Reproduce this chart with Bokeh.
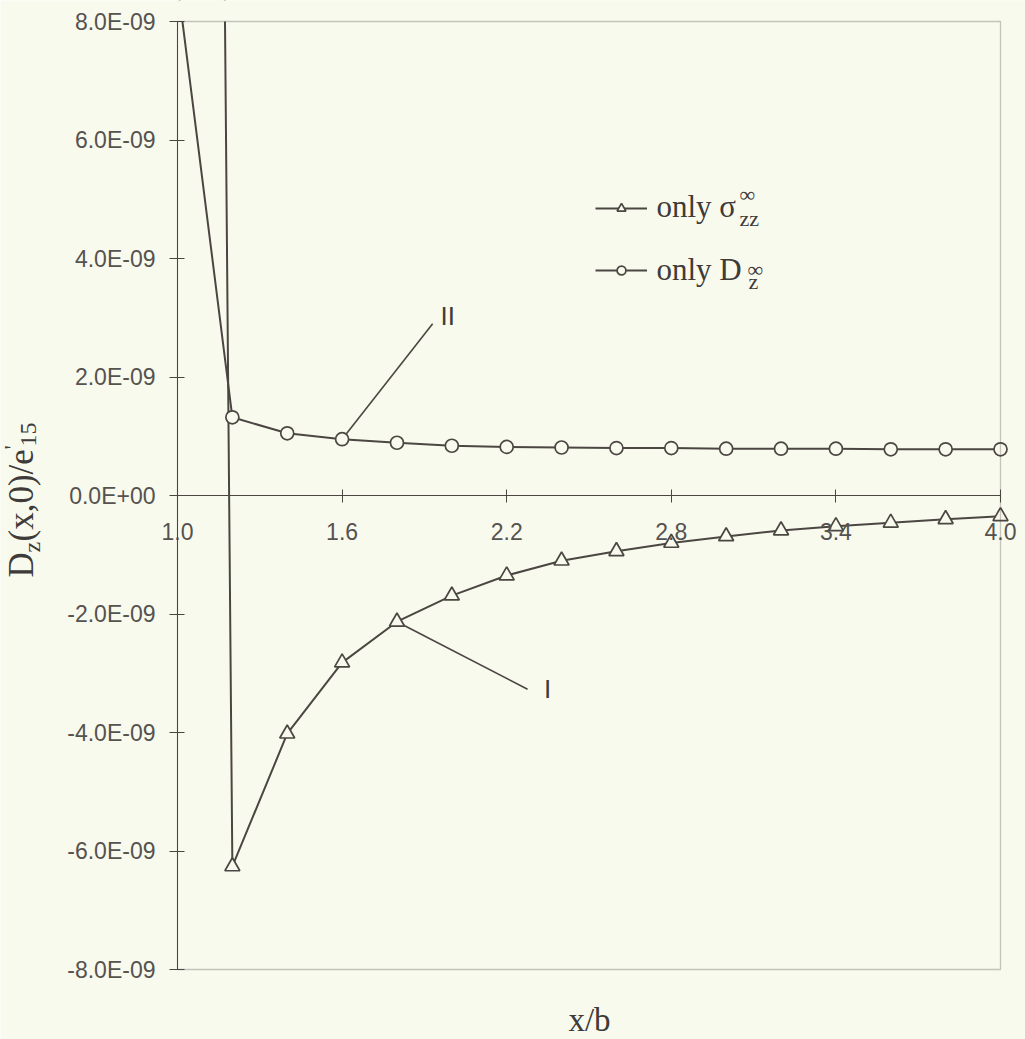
import math
from bokeh.plotting import figure
from bokeh.models import FixedTicker, Range1d, Label, Legend, LegendItem, BoxAnnotation
from bokeh.embed import file_html
from bokeh.resources import INLINE

# ---------------- data ----------------
x_b = [1.0, 1.2, 1.4, 1.6, 1.8, 2.0, 2.2, 2.4, 2.6, 2.8, 3.0, 3.2, 3.4, 3.6, 3.8, 4.0]
# curve I : only sigma_zz
only_sigma_zz = [1.0e-07, -6.26e-09, -4.02e-09, -2.82e-09, -2.13e-09, -1.69e-09, -1.35e-09,
                 -1.10e-09, -0.94e-09, -0.80e-09, -0.69e-09, -0.59e-09, -0.52e-09,
                 -0.46e-09, -0.40e-09, -0.35e-09]
# curve II : only D_z
only_D_z = [8.66e-09, 1.32e-09, 1.05e-09, 0.95e-09, 0.89e-09, 0.84e-09, 0.82e-09, 0.81e-09,
            0.80e-09, 0.80e-09, 0.79e-09, 0.79e-09, 0.79e-09, 0.78e-09, 0.78e-09, 0.78e-09]

x_ticks = [1.0, 1.6, 2.2, 2.8, 3.4, 4.0]
x_tick_labels = ["1.0", "1.6", "2.2", "2.8", "3.4", "4.0"]
y_ticks = [-8e-09, -6e-09, -4e-09, -2e-09, 0.0, 2e-09, 4e-09, 6e-09, 8e-09]
y_tick_labels = ["-8.0E-09", "-6.0E-09", "-4.0E-09", "-2.0E-09", "0.0E+00",
                 "2.0E-09", "4.0E-09", "6.0E-09", "8.0E-09"]

# leader-line ends for the curve labels (data coordinates)
leader_II_end = (1.93, 2.90e-09)
leader_I_end = (2.276, -3.27e-09)

# ---------------- layout / style ----------------
W, H = 1025, 1039
BOX_L, BOX_R, BOX_T, BOX_B = 177, 1000, 21, 969      # pixel box of the chart area
xs = (BOX_R - BOX_L) / (x_ticks[-1] - x_ticks[0])     # px per x unit
ys = (BOX_B - BOX_T) / (y_ticks[-1] - y_ticks[0])     # px per y unit
x_start = x_ticks[0] - BOX_L / xs
x_end = x_ticks[-1] + (W - BOX_R) / xs
y_end = y_ticks[-1] + BOX_T / ys
y_start = y_ticks[0] - (H - BOX_B) / ys

BG = "#F9FAEE"
INK = "#4B4642"
TXT = "#3F3B38"
TICKTXT = "#55524F"
SANS = "Liberation Sans"
SERIF = "Liberation Serif"

p = figure(width=W, height=H,
           x_range=Range1d(x_start, x_end), y_range=Range1d(y_start, y_end),
           output_backend="svg", toolbar_location=None,
           min_border_left=0, min_border_right=0, min_border_top=0, min_border_bottom=0,
           background_fill_color=BG, border_fill_color=BG, outline_line_color=None)

p.xgrid.visible = False
p.ygrid.visible = False

# x axis through y = 0
xa = p.xaxis[0]
xa.fixed_location = 0
xa.bounds = (x_ticks[0], x_ticks[-1])
xa.ticker = FixedTicker(ticks=x_ticks)
xa.major_label_overrides = dict(zip(x_ticks, x_tick_labels))
xa.major_tick_in = 6
xa.major_tick_out = 7
xa.minor_tick_line_color = None
xa.major_label_standoff = 20
xa.axis_line_color = INK
xa.major_tick_line_color = INK
xa.major_label_text_font = SANS
xa.major_label_text_font_size = "23px"
xa.major_label_text_color = TICKTXT

# y axis at x = 1.0
ya = p.yaxis[0]
ya.fixed_location = x_ticks[0]
ya.bounds = (y_ticks[0], y_ticks[-1])
ya.ticker = FixedTicker(ticks=y_ticks)
ya.major_label_overrides = dict(zip(y_ticks, y_tick_labels))
ya.major_tick_in = 7
ya.major_tick_out = 8
ya.minor_tick_line_color = None
ya.major_label_standoff = 14
ya.axis_line_color = INK
ya.major_tick_line_color = INK
ya.major_label_text_font = SANS
ya.major_label_text_font_size = "23px"
ya.major_label_text_color = TICKTXT

# leader lines (drawn before the markers so that markers sit on top)
p.segment(x0=[x_b[3]], y0=[only_D_z[3]], x1=[leader_II_end[0]], y1=[leader_II_end[1]],
          line_color=INK, line_width=1.6)
p.segment(x0=[x_b[4]], y0=[only_sigma_zz[4]], x1=[leader_I_end[0]], y1=[leader_I_end[1]],
          line_color=INK, line_width=1.6)

# series
l1 = p.line(x_b, only_sigma_zz, line_color=INK, line_width=2.0)
m1 = p.scatter(x_b, only_sigma_zz, marker="triangle", size=15, fill_color=BG,
               line_color=INK, line_width=1.7)
l2 = p.line(x_b, only_D_z, line_color=INK, line_width=2.0)
m2 = p.scatter(x_b, only_D_z, marker="circle", size=13, fill_color=BG,
               line_color=INK, line_width=1.7)

# mask: the chart area ends at the top of the box (lines leaving it are cut there)
p.quad(left=[x_ticks[0] + 0.004], right=[x_end + 1], bottom=[y_ticks[-1]], top=[y_end * 3],
       fill_color=BG, fill_alpha=1.0, line_color=None)
# chart box
p.add_layout(BoxAnnotation(left=x_ticks[0], right=x_ticks[-1], bottom=y_ticks[0],
                           top=y_ticks[-1], fill_alpha=0.0, line_color=INK,
                           line_width=1.3, level="guide"))

# legend (glyphs only; texts added as labels for the sub/superscripts)
legend = Legend(items=[LegendItem(label=" ", renderers=[l1, m1]),
                       LegendItem(label=" ", renderers=[l2, m2])],
                location=(595, H - 281), glyph_width=52, glyph_height=22, label_height=20,
                spacing=40, padding=0, margin=0, border_line_color=None,
                background_fill_alpha=0, label_text_font_size="1px",
                label_width=1, label_standoff=0)
p.add_layout(legend)

SHIFT = 0.34   # anchor correction (fraction of font size) so that y is the text baseline


def lab(text, x, y_top, size_px, font=SERIF, rotated=False, align="left", color=TXT):
    """text label with its baseline at canvas pixel position (x from left, y from top)"""
    if rotated:
        x = x - SHIFT * size_px
    else:
        y_top = y_top - SHIFT * size_px
    p.add_layout(Label(x=x, y=H - y_top, x_units="screen", y_units="screen", text=text,
                       text_font=font, text_font_size=f"{size_px}px", text_color=color,
                       text_align=align, text_baseline="alphabetic",
                       angle=(math.pi / 2 if rotated else 0.0)))


# legend texts
lab("only σ", 656, 217, 31)
lab("∞", 739, 201, 22)
lab("zz", 739, 225, 22)
lab("only D", 656, 280, 31)
lab("∞", 747, 276, 22)
lab("z", 748, 288, 22)

# curve labels
lab("II", 440, 324, 26, font=SANS)
p.add_layout(Label(x=leader_I_end[0] + 0.06, y=leader_I_end[1] - 0.25e-09, text="I",
                   text_font=SANS, text_font_size="26px", text_color=TXT))

# axis titles
lab("x/b", 589, 1031, 33, align="center")
bx = 33
lab("D", bx, 577, 35, rotated=True)
lab("z", bx + 7, 552, 24, rotated=True)
lab("(x,0)/e", bx, 541, 35, rotated=True)
lab("'", bx - 13, 449, 24, rotated=True)
lab("15", bx + 3, 446, 24, rotated=True)

open("out.html", "w").write(file_html(p, INLINE))
